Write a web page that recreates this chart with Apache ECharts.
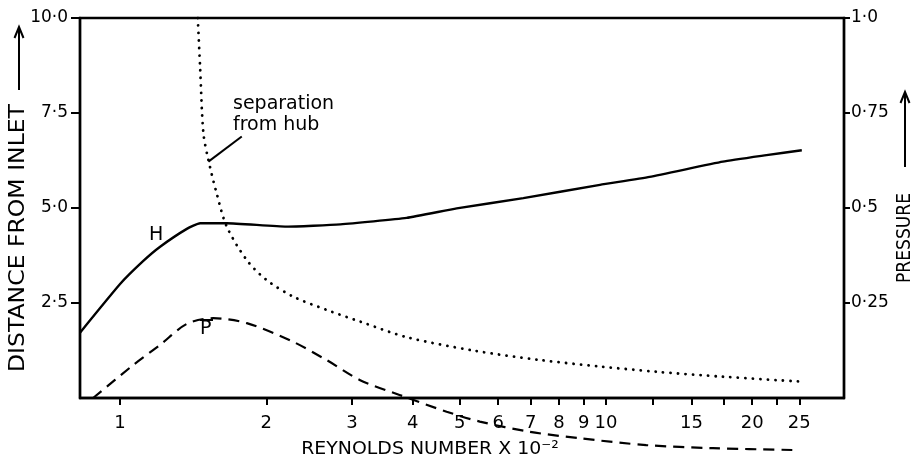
<!DOCTYPE html>
<html><head><meta charset="utf-8">
<script src="https://cdn.jsdelivr.net/npm/echarts@6/dist/echarts.min.js"></script>
<style>html,body{margin:0;padding:0;background:#fff}#c{width:916px;height:466px}</style>
</head><body><div id="c"></div>
<script>
// H curve (left axis: distance from inlet)
const hX = [0.827,1.0,1.115,1.209,1.372,1.461,1.658,2.2,2.84,3.89,4.93,6.76,9.72,12.3,17.4,21.4,25.3];
const hY = [1.72,3.0,3.6,3.98,4.45,4.6,4.6,4.51,4.57,4.74,4.99,5.26,5.61,5.82,6.22,6.39,6.52];
// separation from hub (left axis)
const sepX = [1.445,1.461,1.484,1.52,1.58,1.658,1.823,2.0,2.27,2.66,3.12,3.89,5.33,7.31,9.72,12.7,17.4,25.3];
const sepY = [10.0,8.72,6.97,6.26,5.39,4.51,3.63,3.11,2.67,2.32,2.01,1.6,1.25,1.0,0.83,0.69,0.56,0.43];
// P curve (right axis: pressure)
const pX = [0.88,1.06,1.209,1.372,1.554,1.823,2.27,2.66,3.12,3.76,4.7,5.5,6.98,8.84,12.1,16.6,24.7];
const pY = [0,0.085,0.14,0.195,0.21,0.197,0.148,0.1,0.047,0.008,-0.036,-0.062,-0.089,-0.106,-0.124,-0.132,-0.137];
// leader line for annotation
const leaderX = [1.52,1.78];
const leaderY = [6.22,6.88];
// axis ticks / labels
const xTicks = [1,2,3,4,5,6,7,8,9,10,12.5,15,17.5,20,22.5,25];
const xLabels = [1,2,3,4,5,6,7,8,9,10,15,20,25];
const yLeftTicks = [2.5,5,7.5,10];
const yLeftLabels = ['2·5','5·0','7·5','10·0'];
const yRightTicks = [0.25,0.5,0.75,1];
const yRightLabels = ['0·25','0·5','0·75','1·0'];

const zip = (a,b) => a.map((v,i)=>[v,b[i]]);
const FONT = 'DejaVu Sans';
const chart = echarts.init(document.getElementById('c'), null, {renderer:'canvas'});
const lbl = (ticks, labels) => v => { const i = ticks.findIndex(t=>Math.abs(t-v)<1e-9); return i>=0?labels[i]:''; };
const LW = 2.4;

chart.setOption({
  animation:false,
  backgroundColor:'#fff',
  grid:{left:80,right:72,top:18,bottom:68,show:true,borderColor:'#000',borderWidth:LW,backgroundColor:'transparent'},
  xAxis:{type:'log',logBase:10,min:0.827,max:30.9,
    axisLine:{show:true,lineStyle:{color:'#000',width:LW}},
    axisTick:{show:true,customValues:xTicks,length:7,lineStyle:{color:'#000',width:2}},
    axisLabel:{customValues:xLabels,color:'#000',fontSize:18,fontFamily:FONT,margin:16,formatter:v=>String(Math.round(v*10)/10)},
    splitLine:{show:false},minorTick:{show:false}},
  yAxis:[
    {type:'value',min:0,max:10,position:'left',
      axisLine:{show:true,lineStyle:{color:'#000',width:LW}},
      axisTick:{show:true,customValues:yLeftTicks,length:9,lineStyle:{color:'#000',width:2}},
      axisLabel:{customValues:yLeftTicks,color:'#000',fontSize:17,fontFamily:FONT,margin:12,formatter:lbl(yLeftTicks,yLeftLabels)},
      splitLine:{show:false}},
    {type:'value',min:0,max:1,position:'right',
      axisLine:{show:true,lineStyle:{color:'#000',width:LW}},
      axisTick:{show:true,customValues:yRightTicks,length:6,lineStyle:{color:'#000',width:2}},
      axisLabel:{customValues:yRightTicks,color:'#000',fontSize:17,fontFamily:FONT,margin:7,formatter:lbl(yRightTicks,yRightLabels)},
      splitLine:{show:false}}
  ],
  series:[
    {name:'H',type:'line',data:zip(hX,hY),yAxisIndex:0,smooth:0.15,symbol:'none',
      lineStyle:{color:'#000',width:LW}},
    {name:'separation from hub',type:'line',data:zip(sepX,sepY),yAxisIndex:0,smooth:0.3,symbol:'none',
      lineStyle:{color:'#000',width:2.8,type:[0.1,7.4],cap:'round'}},
    {name:'P',type:'line',data:zip(pX,pY),yAxisIndex:1,smooth:0.3,symbol:'none',clip:false,
      lineStyle:{color:'#000',width:2.2,type:[11,7]}},
    {name:'leader',type:'line',data:zip(leaderX,leaderY),yAxisIndex:0,symbol:'none',
      lineStyle:{color:'#000',width:2}}
  ],
  graphic:[
    {type:'text',left:233,top:94,style:{text:'separation\nfrom hub',fontSize:19,fontFamily:FONT,fill:'#000',lineHeight:21}},
    {type:'text',x:149,y:226,style:{text:'H',fontSize:19,fontFamily:FONT,fill:'#000'}},
    {type:'text',x:200,y:320,style:{text:'P',fontSize:19,fontFamily:FONT,fill:'#000'}},
    {type:'polyline',shape:{points:[[200,320],[213,320]]},style:{stroke:'#000',lineWidth:2,fill:null}},
    {type:'text',x:19,y:238,rotation:Math.PI/2,scaleX:1.12,style:{text:'DISTANCE FROM INLET',fontSize:21,fontFamily:FONT,fill:'#000',align:'center',verticalAlign:'middle'}},
    {type:'polyline',shape:{points:[[19,90],[19,27]]},style:{stroke:'#000',lineWidth:2,fill:null}},
    {type:'polyline',shape:{points:[[14.5,38],[19,27],[23.5,38]]},style:{stroke:'#000',lineWidth:2,fill:null}},
    {type:'text',x:905,y:238,rotation:Math.PI/2,scaleX:0.9,style:{text:'PRESSURE',fontSize:19,fontFamily:FONT,fill:'#000',align:'center',verticalAlign:'middle'}},
    {type:'polyline',shape:{points:[[905,167],[905,92]]},style:{stroke:'#000',lineWidth:2,fill:null}},
    {type:'polyline',shape:{points:[[900.5,103],[905,92],[909.5,103]]},style:{stroke:'#000',lineWidth:2,fill:null}},
    {type:'text',x:430,y:449,scaleX:1.05,style:{text:'REYNOLDS NUMBER X 10\u207B\u00B2',fontSize:18,fontFamily:FONT,fill:'#000',align:'center',verticalAlign:'middle'}}
  ]
});
</script></body></html>
